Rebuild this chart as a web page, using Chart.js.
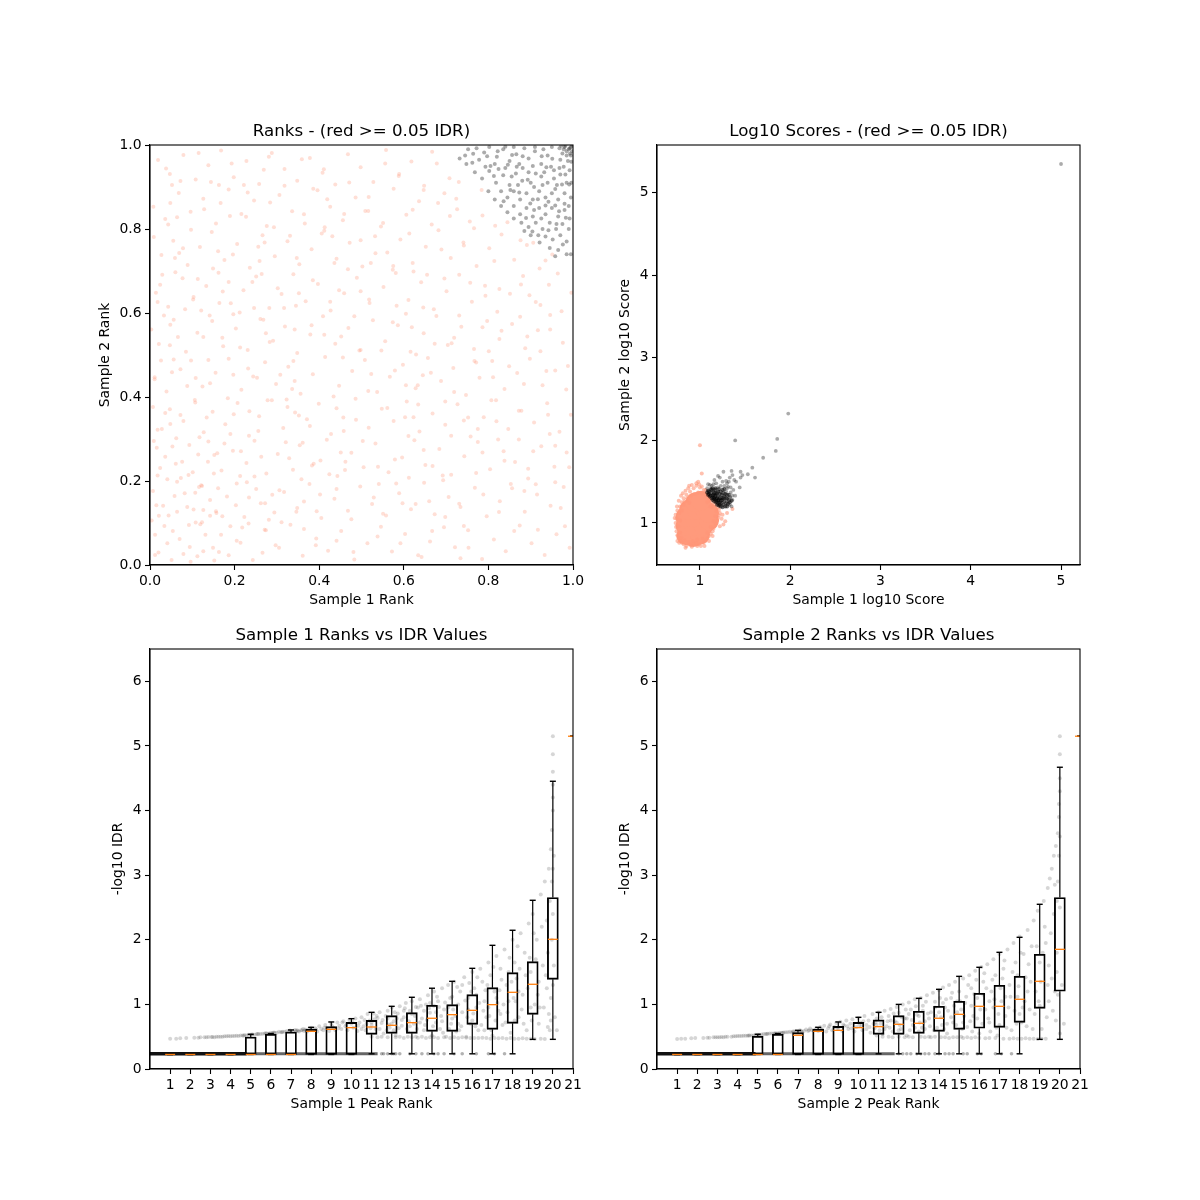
<!DOCTYPE html>
<html>
<head>
<meta charset="utf-8">
<title>IDR plots</title>
<script src="https://cdn.jsdelivr.net/npm/chart.js@4/dist/chart.umd.min.js"></script>
<style>
  body { margin: 0; background: #fff; }
  #page { position: relative; width: 1200px; height: 1200px; overflow: hidden; }
  canvas { position: absolute; }
</style>
</head>
<body>
<div id="page">
  <canvas id="ranks" width="513" height="515" style="left:80px;top:104.5px"></canvas>
  <canvas id="scores" width="513" height="515" style="left:587px;top:104.5px"></canvas>
  <canvas id="sample1" width="513" height="515" style="left:80px;top:608.5px"></canvas>
  <canvas id="sample2" width="513" height="515" style="left:587px;top:608.5px"></canvas>
</div>
<script>
const rankTicks = [0, 0.2, 0.4, 0.6, 0.8, 1];
const scoreTicks = [1, 2, 3, 4, 5];
const idrTicks = [0, 1, 2, 3, 4, 5, 6];
const peakTicks = [1, 2, 3, 4, 5, 6, 7, 8, 9, 10, 11, 12, 13, 14, 15, 16, 17, 18, 19, 20, 21];

// ranks panel, failing peaks
const rankRed = [
[.02,.03],[.051,.012],[.07,.062],[.034,.093],[.112,.021],[.131,.072],[.094,.043],[.163,.031],[.19,.092],[.214,.053],[.243,.012],[.271,.084],[.305,.041],[.332,.096],[.361,.022],[.393,.063],[.421,.034],[.452,.081],[.483,.013],[.514,.052],[.546,.091],[.572,.032],[.603,.074],[.634,.023],[.662,.056],[.695,.09],[.721,.042],[.752,.083],[.785,.014],[.813,.061],[.841,.033],[.874,.094],[.902,.052],[.933,.024],[.961,.073],[.992,.041],[.012,.072],[.041,.052],[.123,.102],[.152,.011],
[.015,.142],[.044,.118],[.082,.171],[.103,.132],[.121,.19],[.116,.186],[.157,.124],[.182,.163],[.223,.114],[.251,.181],[.262,.147],[.294,.125],[.317,.174],[.348,.136],[.377,.193],[.405,.112],[.436,.158],[.468,.129],[.497,.187],[.525,.145],[.558,.118],[.589,.171],[.617,.133],[.648,.196],[.673,.121],[.706,.162],[.734,.138],[.768,.184],[.796,.116],[.827,.152],[.853,.193],[.886,.127],[.915,.168],[.947,.141],[.978,.186],[.007,.176],[.064,.198],[.142,.155],[.205,.194],[.281,.108],[.364,.151],[.541,.193],[.66,.152],[.885,.176],
[.024,.231],[.053,.282],[.091,.214],[.114,.263],[.138,.294],[.169,.225],[.196,.272],[.228,.243],[.247,.296],[.275,.218],[.302,.264],[.338,.227],[.354,.285],[.387,.241],[.418,.298],[.443,.212],[.476,.267],[.505,.233],[.533,.289],[.564,.221],[.596,.256],[.625,.297],[.651,.238],[.684,.276],[.712,.215],[.743,.259],[.775,.293],[.804,.228],[.836,.271],[.863,.245],[.894,.206],[.925,.283],[.956,.234],[.985,.268],[.009,.295],[.036,.258],[.076,.246],[.152,.262],[.213,.212],[.263,.258],[.321,.292],[.403,.249],[.461,.226],[.612,.208],[.692,.213],[.823,.299],
[.018,.322],[.047,.371],[.079,.343],[.106,.393],[.127,.316],[.148,.365],[.178,.335],[.207,.386],[.234,.308],[.258,.354],[.288,.392],[.315,.326],[.343,.363],[.371,.347],[.399,.384],[.428,.312],[.457,.351],[.486,.396],[.517,.327],[.548,.372],[.576,.343],[.607,.389],[.637,.318],[.668,.361],[.698,.334],[.727,.383],[.758,.306],[.789,.352],[.818,.392],[.847,.324],[.878,.367],[.908,.339],[.939,.385],[.968,.317],[.995,.358],[.007,.376],[.062,.302],[.19,.312],[.323,.394],[.352,.356],[.441,.373],[.623,.352],[.742,.344],
[.011,.442],[.039,.413],[.072,.466],[.097,.487],[.124,.425],[.155,.458],[.186,.491],[.216,.417],[.244,.449],[.272,.483],[.298,.431],[.327,.472],[.356,.408],[.385,.454],[.414,.495],[.447,.427],[.478,.462],[.508,.488],[.537,.412],[.567,.448],[.598,.477],[.628,.421],[.657,.493],[.688,.438],[.717,.469],[.747,.405],[.779,.446],[.809,.486],[.838,.419],[.868,.457],[.898,.491],[.928,.428],[.958,.463],[.988,.474],[.056,.489],[.108,.445],[.232,.468],[.342,.438],[.523,.455],[.645,.452],[.771,.482],
[.021,.526],[.048,.572],[.085,.508],[.112,.553],[.141,.594],[.173,.521],[.203,.563],[.231,.512],[.261,.586],[.291,.534],[.319,.568],[.348,.505],[.379,.549],[.409,.592],[.438,.527],[.469,.564],[.495,.511],[.527,.583],[.556,.533],[.586,.571],[.616,.508],[.647,.552],[.677,.593],[.704,.524],[.736,.567],[.766,.514],[.797,.581],[.826,.538],[.856,.574],[.887,.516],[.917,.559],[.946,.595],[.976,.529],[.003,.561],[.066,.543],[.197,.597],[.274,.552],[.452,.544],[.605,.598],[.719,.541],
[.014,.648],[.043,.615],[.077,.683],[.102,.632],[.133,.664],[.162,.696],[.191,.623],[.221,.654],[.251,.687],[.282,.612],[.311,.645],[.339,.692],[.368,.628],[.397,.669],[.427,.606],[.459,.647],[.489,.684],[.519,.624],[.552,.662],[.581,.695],[.611,.631],[.641,.673],[.671,.609],[.701,.652],[.731,.691],[.761,.627],[.792,.665],[.821,.603],[.851,.646],[.882,.688],[.912,.626],[.943,.667],[.973,.604],[.996,.648],[.06,.697],[.121,.606],[.172,.651],[.345,.617],[.498,.652],
[.027,.738],[.055,.772],[.089,.714],[.118,.757],[.146,.793],[.176,.726],[.206,.764],[.236,.708],[.266,.785],[.295,.735],[.325,.771],[.353,.716],[.382,.752],[.412,.796],[.441,.729],[.472,.767],[.502,.711],[.532,.783],[.561,.744],[.592,.775],[.621,.719],[.652,.758],[.682,.797],[.711,.731],[.741,.768],[.772,.712],[.802,.754],[.831,.787],[.861,.727],[.891,.762],[.921,.706],[.951,.739],[.009,.781],[.069,.743],[.161,.747],[.259,.724],[.431,.783],[.575,.712],
[.008,.853],[.036,.824],[.068,.886],[.096,.841],[.126,.872],[.156,.813],[.186,.894],[.216,.836],[.246,.868],[.276,.807],[.306,.881],[.336,.842],[.366,.813],[.396,.892],[.426,.853],[.456,.821],[.486,.875],[.516,.843],[.546,.806],[.576,.896],[.606,.834],[.636,.866],[.666,.811],[.696,.885],[.726,.847],[.756,.818],[.786,.832],[.816,.808],[.845,.816],[.876,.773],[.906,.767],[.935,.725],[.964,.694],[.048,.862],[.231,.887],[.413,.804],[.647,.893],
[.019,.964],[.047,.931],[.079,.976],[.108,.918],[.138,.952],[.168,.987],[.198,.923],[.228,.962],[.258,.907],[.288,.981],[.318,.943],[.348,.915],[.378,.969],[.408,.934],[.438,.906],[.468,.978],[.498,.947],[.528,.912],[.558,.988],[.588,.926],[.618,.961],[.648,.903],[.678,.956],[.708,.921],[.73,.912],[.052,.905],[.281,.972],[.163,.905]
];
const rankRedMore = [
[.317,.612],[.742,.093],[.128,.847],[.561,.374],[.093,.286],[.884,.431],[.436,.719],[.205,.058],[.673,.527],[.029,.691],[.358,.204],[.517,.876],[.786,.268],[.142,.433],[.628,.145],[.271,.768],[.945,.312],[.064,.127],[.483,.592],[.709,.831],[.186,.674],[.392,.047],[.831,.558],[.256,.319],[.574,.703],[.115,.981],[.668,.236],[.339,.486],[.917,.084],[.047,.523],[.451,.268],[.793,.641],[.222,.905],[.605,.428],[.078,.754],[.529,.161],[.364,.835],[.872,.367],[.151,.218],[.696,.682],
[.283,.531],[.958,.197],[.411,.942],[.036,.362],[.642,.019],[.197,.453],[.814,.724],[.476,.109],[.103,.638],[.551,.814],[.329,.254],[.767,.486],[.018,.213],[.246,.612],[.589,.931],[.923,.509],[.168,.072],[.434,.401],[.712,.308],[.072,.914],[.385,.678],[.856,.183],[.297,.047],[.619,.566],[.134,.351],[.498,.773],[.984,.418],[.227,.829],[.753,.041],[.056,.584],[.346,.127],[.681,.862],[.412,.548],[.176,.289],[.897,.642],[.539,.234],[.264,.693],[.011,.447],[.634,.382],[.825,.126],
[.459,.836],[.107,.172],[.378,.331],[.731,.594],[.213,.518],[.592,.052],[.043,.811],[.906,.271],[.318,.903],[.664,.458],[.149,.706],[.503,.295],[.849,.473],[.272,.147],[.088,.426],[.426,.627],[.771,.219],[.235,.366],[.613,.789],[.971,.136],[.193,.956],[.547,.511],[.364,.086],[.024,.667],[.698,.114],[.458,.319],[.126,.543],[.807,.392],[.293,.804],[.579,.251],[.061,.241],[.742,.761],[.402,.168],[.875,.591],[.167,.862],[.518,.632],[.336,.419],[.941,.358],[.229,.197],[.655,.691],
[.092,.095],[.471,.911],[.788,.168],[.253,.446],[.611,.307],[.038,.944],[.382,.571],[.719,.412],[.156,.128],[.533,.742],[.894,.229],[.302,.659],[.048,.336],[.667,.984],[.441,.181],[.196,.739],[.826,.657],[.579,.463],[.117,.304],[.359,.966],[.752,.351],[.274,.083],[.498,.512],[.937,.462],[.083,.609],[.623,.699],[.215,.271],[.406,.789],[.861,.081],[.147,.581],[.551,.122],[.713,.528],[.325,.376],[.031,.141],[.784,.893],[.462,.246],[.189,.831],[.647,.274],[.268,.584],[.991,.233],
[.123,.188],[.108,.101],[.119,.097],[.004,.106],[.016,.279],[.028,.324],[.149,.041],[.171,.116],[.234,.161],[.266,.029],[.079,.026],[.058,.164],[.101,.221],[.137,.246],[.203,.142],[.186,.023],[.041,.204],[.073,.207],[.021,.117],[.161,.183],[.247,.211],[.289,.167],[.311,.102],[.126,.033],[.142,.117],[.088,.138],[.012,.024],[.054,.081],[.096,.008],[.218,.089],
[.347,.731],[.731,.146],[.583,.617],[.138,.488],[.872,.299],[.441,.058],[.269,.941],[.698,.389],[.052,.459],[.516,.414],[.801,.509],[.383,.237],[.164,.624],[.946,.561],[.621,.846],[.308,.453],[.757,.672],[.097,.798],[.487,.346],[.233,.099],[.667,.081],[.419,.871],[.912,.192],[.184,.397],[.556,.956],[.033,.594],[.775,.324],[.342,.561],[.629,.501],[.113,.681],[.468,.704],[.838,.248],[.256,.758],[.597,.147],[.072,.357],[.394,.128],[.724,.872],[.212,.601],[.981,.092],[.509,.843],
[.361,.291],[.786,.566],[.144,.912],[.603,.352],[.026,.487],[.447,.654],[.892,.544],[.278,.392],[.693,.202],[.171,.541],[.538,.068],[.331,.784],[.819,.342],[.064,.828],[.574,.578],[.424,.216],[.958,.284],[.242,.674],[.646,.613],[.107,.387],[.481,.031],[.766,.802],[.306,.178],[.522,.719],[.877,.668],[.198,.359],[.059,.731],[.633,.428],[.386,.896],[.734,.016],[.159,.266],[.456,.494],[.923,.619],[.284,.863],[.582,.194],[.018,.626],[.811,.447],[.352,.647],[.689,.751],[.126,.131]
];
// ranks panel, passing peaks
const rankBlack = [
[.732,.968],[.745,.975],[.762,.958],[.778,.965],[.79,.982],[.805,.95],[.82,.972],[.835,.99],[.85,.962],[.866,.978],[.881,.945],[.895,.968],[.91,.985],[.925,.955],[.94,.975],[.955,.94],[.97,.965],[.985,.985],[.995,.995],[.99,.99],[.98,.995],[.975,.98],[.995,.975],[.988,.962],[.968,.992],[.95,.995],[.93,.99],[.91,.995],[.885,.992],[.86,.995],[.84,.996],
[.768,.935],[.785,.92],[.802,.938],[.818,.91],[.835,.928],[.85,.905],[.865,.932],[.88,.915],[.895,.935],[.908,.9],[.925,.925],[.94,.91],[.955,.92],[.97,.93],[.985,.91],[.992,.94],[.978,.948],[.962,.905],[.948,.948],[.873,.955],[.815,.955],[.83,.89],[.845,.875],[.86,.89],[.875,.87],[.89,.885],[.905,.87],[.92,.89],[.935,.875],[.95,.885],[.965,.87],[.98,.885],[.995,.875],
[.8,.89],[.815,.87],[.83,.855],[.845,.84],[.86,.855],[.875,.835],[.89,.85],[.905,.83],[.92,.85],[.935,.835],[.95,.85],[.965,.83],[.98,.845],[.992,.825],[.878,.815],[.895,.805],[.912,.815],[.928,.8],[.945,.815],[.96,.8],[.975,.812],[.99,.8],[.9,.785],[.918,.785],[.935,.782],[.952,.775],[.97,.785],[.985,.77],[.945,.755],[.965,.75],[.985,.74],[.995,.74],[.958,.735],
[.752,.99],[.772,.992],[.802,.995],[.822,.985],[.748,.955],[.793,.948],[.84,.945],[.905,.95],[.932,.935],[.968,.945],[.982,.93],[.9,.91],[.87,.905],[.855,.925],[.928,.905],[.958,.895],[.942,.865],[.908,.845],[.86,.825],[.885,.795],[.925,.825],[.98,.86],[.99,.855],[.996,.91],[.996,.96],[.993,.98],[.985,.975],[.978,.99],[.992,.992],[.998,.985],[.998,.998],[.982,.998],[.972,.998],
[.893,.917],[.846,.953],[.917,.871],[.961,.812],[.873,.887],[.813,.926],[.937,.947],[.889,.826],[.974,.906],[.852,.893],[.926,.973],[.904,.794],[.983,.827],[.836,.866],[.951,.967],[.867,.948],[.942,.797],[.912,.932],[.797,.973],[.976,.763],[.824,.943],[.958,.856],[.881,.973],[.935,.856],[.991,.906],[.856,.976],[.899,.861],[.967,.842],[.764,.979],[.921,.768]
];
// scores panel
const scoreOutliers = [[5,5.35],[1.978,2.325],[1.856,2.018],[1.84,1.873],[1.7,1.79],[1.39,2],[1.58,1.67],[1.61,1.55],[1.53,1.59],[1.45,1.62],[1.47,1.58],[1.45,1.55],[1.4,1.5],[1.44,1.43],[1.35,1.63],[1.26,1.62],[1.36,1.58],[1.33,1.55],[1.32,1.5],[1.38,1.52],[1.31,1.44],[1.29,1.51],[1.22,1.55],[1.25,1.5],[1.2,1.57],[1.16,1.52],[1.18,1.48],[1.11,1.46],[1.37,1.4],[1.34,1.37],[1.39,1.33],[1.35,1.2],[1.36,1.28],[1.3,1.42],[1.27,1.45],[1.08,1.42],[1.13,1.45],[1.23,1.45],[1.29,1.38],[1.33,1.22],[1.36,1.33],[1.2,1.43],[1.09,1.47],[1.34,1.43],[1.3,1.48],[1.15,1.47]];
const scoreBlack = [[1.08,1.37],[1.09,1.34],[1.1,1.38],[1.11,1.32],[1.12,1.36],[1.13,1.3],[1.13,1.4],[1.14,1.28],[1.15,1.34],[1.15,1.38],[1.16,1.26],[1.16,1.31],[1.17,1.42],[1.18,1.25],[1.18,1.29],[1.18,1.35],[1.19,1.22],[1.2,1.27],[1.2,1.32],[1.2,1.38],[1.21,1.21],[1.22,1.25],[1.22,1.3],[1.23,1.2],[1.24,1.24],[1.24,1.34],[1.25,1.19],[1.25,1.28],[1.26,1.22],[1.27,1.26],[1.27,1.32],[1.28,1.2],[1.29,1.24],[1.3,1.29],[1.31,1.23],[1.32,1.27],[1.33,1.31],[1.14,1.33],[1.17,1.33],[1.19,1.3],[1.21,1.28],[1.23,1.27],[1.12,1.33],[1.16,1.29],[1.15,1.3],[1.18,1.27],[1.2,1.24],[1.22,1.22],[1.1,1.35],[1.26,1.3],[1.28,1.35],[1.23,1.38],[1.17,1.4],[1.14,1.42],[1.3,1.34],[1.25,1.4],[1.09,1.39],[1.12,1.41],[1.16,1.36],[1.19,1.36],[1.22,1.35],[1.26,1.36],[1.24,1.3],[1.29,1.3],[1.32,1.34],[1.21,1.41],[1.27,1.41],[1.35,1.27],[1.3,1.2],[1.33,1.25]];
const scoreCore = [[.85,.85],[.93,.83],[1,.86],[.84,.97],[.94,.96],[1.04,.97],[.84,1.07],[.94,1.07],[1.04,1.07],[1.1,1.03],[.88,1.16],[.97,1.16],[1.06,1.15],[1.1,1.12],[.95,1.25],[1.01,1.27]];
const scoreRed = [[.73,1],[.74,.9],[.735,.95],[.75,.85],[.76,.82],[.78,.78],[.8,.76],[.82,.74],[.85,.72],[.88,.74],[.9,.73],[.93,.75],[.96,.76],[.99,.74],[1.01,.72],[1.04,.76],[1.06,.78],[1.08,.81],[1.1,.84],[1.12,.87],[1.14,.9],[1.15,.93],[1.17,.97],[1.18,1],[1.19,1.03],[1.2,1.06],[1.21,1.09],[1.22,1.12],[1.21,1.16],[1.2,1.19],[1.17,1.22],[1.15,1.25],[1.12,1.27],[1.1,1.3],[1.07,1.33],[1.05,1.36],[1.04,1.4],[1,1.43],[.96,1.45],[.93,1.42],[.89,1.38],[.85,1.34],[.82,1.3],[.8,1.25],[.78,1.2],[.75,1.15],[.73,1.1],[.74,1.05],[.76,.96],[.78,.88],[.78,1.03],[.77,1.12],[.8,1.15],[.82,1.22],[.86,1.27],[.79,.82],[.83,.79],[.87,.77],[.92,.78],[.97,.8],[1.03,.81],[1.08,.88],[1.12,.95],[1.15,1.02],[1.17,1.08],[1.18,1.14],[1.14,1.2],[1.25,1.1],[1.28,1.02],[1.36,1.17],[1.3,1.12],[1.26,.98],[1.24,1.05],[1.22,.96],[1.02,1.6],[1,1.94],[.98,1.5],[.88,1.45],[.96,1.48],[.81,1.36],
[.72,1.06],[.745,1.2],[.765,1.27],[.79,1.33],[.84,1.39],[.87,1.42],[.91,1.46],[.99,1.47],[1.02,1.44],[1.06,1.4],[.77,.76],[.84,.7],[.91,.71],[.97,.72],[1.05,.72],[1.1,.78],[.75,.78],[1.14,.84],[.86,1.3],[.9,1.33],[.94,1.35],[.98,1.37],[1.02,1.36],[.83,1.26],[.88,1.24],[1.08,1.25],[1.12,1.2]];

// sample 1 panel
const s1BandDark = [[0,.235],[4.8,.235]];
const s1BandMid = [[4.8,.235],[11.3,.235]];
const s1Dots = [[11.5,.235],[11.8,.235],[12,.235],[12.2,.235],[12.4,.235],[12.9,.235],[13.2,.235],[13.8,.235],[14.3,.235],[14.6,.235],[15.1,.235],[15.5,.235],[16.2,.235],[16.8,.235],[17.1,.235],[17.6,.235],[11.6,.235],[12.1,.235],[13.5,.235],[14.1,.235]];
const s1Points = [
[1,.47],[1.3,.47],[1.5,.475],[1.8,.48],[2.2,.485],[2.5,.49],[2.7,.49],[2.9,.495],[3.1,.495],[3.2,.49],[3.3,.5],[3.5,.5],[3.6,.5],[3.7,.505],[3.9,.51],[4,.505],[4.1,.51],[4.3,.515],[4.4,.51],[4.5,.52],[4.7,.525],[4.8,.52],[4.9,.53],[5.1,.535],[5.2,.53],[5.3,.54],[5.5,.54],[5.6,.545],[5.7,.55],[5.9,.55],[6,.56],[6.1,.56],[6.3,.56],[6.4,.575],[6.5,.57],[6.7,.575],[6.8,.59],[6.9,.585],[7.1,.59],[7.2,.605],[7.3,.6],[7.4,.58],[7.5,.6],[7.6,.62],[7.7,.61],[7.8,.58],[7.9,.62],
[3.4,.5],[3.8,.505],[4.2,.51],[4.6,.52],[5,.53],[5.4,.54],[5.8,.55],[6.2,.56],[6.6,.575],[7,.585],[7.25,.59],[7.55,.6],[7.75,.6],[7.95,.6],[4.65,.515],[5.05,.535],[5.35,.54],[5.75,.555],[6.15,.565],[6.55,.57],[6.95,.595],[7.35,.59],[7.65,.59],[2.4,.485],[2.8,.49],[3.05,.495],
[8,.64],[8.1,.6],[8.2,.63],[8.3,.58],[8.4,.66],[8.5,.62],[8.6,.6],[8.7,.68],[8.8,.63],[8.9,.59],[9,.7],[9.1,.64],[9.2,.6],[9.3,.72],[9.4,.67],[9.5,.62],[9.6,.74],[9.7,.66],[9.8,.6],[9.9,.76],[10,.7],[10.1,.64],[10.2,.78],[10.3,.59],[10.4,.72],[10.5,.8],[10.6,.66],[10.7,.6],[10.8,.85],[10.9,.75],[11,.68],[11.1,.86],[11.2,.62],[11.3,.79],[11.4,.88],[11.5,.71],[11.6,.55],[11.7,.82],[11.8,.9],[11.9,.64],[12,.95],[12.1,.74],[12.2,.52],[12.3,.86],[12.4,.97],[12.5,.67],[12.6,.8],[12.7,1.02],[12.8,.58],[12.9,.9],[13,1.05],[13.1,.7],[13.2,.5],[13.3,.95],[13.4,1.08],[13.5,.78],[13.6,.6],[13.7,1],[13.8,1.14],[13.9,.87],[14,.52],[14.1,1.2],[14.2,.72],[14.3,1.05],[14.4,.62],[14.5,1.25],[14.6,.92],[14.7,.5],[14.8,1.3],[14.9,1.1],[15,.78],[15.1,1.35],[15.2,.58],[15.3,1],[15.4,1.2],[15.5,.88],[15.6,1.42],[15.7,.5],[15.8,1.1],[15.9,.7],[16,1.5],[16.1,1.25],[16.2,.95],[16.3,.6],[16.4,1.55],[16.5,1.35],[16.6,1.05],[16.7,.8],[16.8,1.65],[16.9,1.45],[17,.52],[17.1,1.2],[17.2,1.75],[17.3,.9],[17.4,1.55],[17.5,.68],[17.6,1.85],[17.7,1.3],[17.8,1.05],[17.9,.56],[18,2],[18.1,1.65],[18.2,1.4],[18.3,.8],[18.4,2.1],[18.5,1.15],[18.6,1.8],[18.7,.6],[18.8,2.25],[18.9,1.5],[19,2.4],[19.1,1],[19.2,2],[19.3,.7],[19.4,2.7],[19.5,1.6],[19.6,2.9],[19.7,1.25],[19.7,2.3],[19.8,.85],[19.8,3.1],[19.85,.6],[19.9,3.4],[19.95,2],[19.95,3.7],[20,4],[20,4.2],[20,4.4],[20,4.87],[20,4.6],[20,5.15],[20.05,1.6],[20.1,.8],[20.2,.6],
[10.5,.62],[11,.72],[11.4,.62],[12,.7],[12.5,.76],[13,.85],[13.6,.9],[14.2,.88],[14.8,.95],[15.3,.7],[15.8,.92],[16.2,1.15],[16.8,.95],[17.2,1.1],[17.8,1.5],[18.3,1.2],[18.9,.95],[19.3,1.35],[19.9,1.1],[12.1,.6],[12.9,.66],[13.4,.72],[14.5,.74],[15,1.12],[15.5,1.3],[16,.75],[16.6,.6],[17.4,.85],[18.1,.75],[11.8,.78],[12.6,.9],[13.2,.96],[13.9,1.02],[14.1,.98],
[11,.5],[11.3,.49],[11.5,.5],[11.8,.49],[12.2,.49],[12.4,.5],[12.6,.48],[12.8,.5],[13,.49],[13.3,.485],[13.5,.5],[13.7,.48],[13.9,.49],[14.1,.49],[14.3,.48],[14.6,.49],[14.9,.48],[15.1,.49],[15.3,.48],[15.5,.49],[15.7,.485],[15.9,.48],[16.1,.48],[16.3,.48],[16.5,.485],[16.7,.48],[16.9,.47],[17.1,.48],[17.3,.475],[17.5,.48],[17.7,.47],[17.9,.48],[18.1,.47],[18.3,.47],[18.5,.475],[18.7,.47],[18.9,.47],[19.1,.465],[19.4,.47],[19.6,.465],
[8.25,.61],[8.65,.64],[9.05,.66],[9.35,.63],[9.75,.69],[10.05,.73],[10.35,.67],[10.65,.76],[10.95,.63],[11.25,.82],[11.55,.76],[11.85,.69],[12.15,.88],[12.35,.63],[12.65,.94],[12.85,.74],[13.15,.82],[13.45,.98],[13.65,.68],[13.85,.94],[14.05,.66],[14.25,1.12],[14.45,.82],[14.65,1.03],[14.85,.62],[15.05,.92],[15.25,1.27],[15.45,.66],[15.65,1.06],[15.85,1.33],[16.05,.86],[16.25,1.42],[16.45,.68],[16.65,1.22],[16.85,.82],[17.05,1.58],[17.25,1.02],[17.45,1.38],[17.65,.72],[17.85,1.72],[18.05,1.1],[18.25,1.9],[18.45,.92],[18.65,1.45],[18.85,1.72],[19.05,2.1],[19.25,1.15],[19.45,2.2],[19.55,.95],[19.75,1.8],[19.85,2.6],
[9.55,.72],[10.75,.7],[11.15,.77],[11.75,.6],[12.25,.78],[12.75,.62],[13.25,.62],[13.75,.76],[14.35,.96],[14.55,.56],[14.95,.7],[15.15,.82],[15.35,.6],[15.75,.8],[15.95,1.2],[16.15,.66],[16.35,1.02],[16.55,.9],[16.75,1.3],[16.95,.6],[17.15,.75],[17.35,1.22],[17.55,1],[17.75,.88],[17.95,1.35],[18.15,1.05],[18.35,1.55],[18.55,.7],[18.75,1.25],[18.95,.75],[19.15,1.7],[19.35,.95],[19.65,1.45],[19.75,.65],[19.9,.75],[20,1.3],[20,2.4],[19.95,2.9],[20.05,3.3],[20,3.1]
];
const s1Q1 = [.225,.225,.225,.225,.225,.225,.225,.225,.225,.225,.537,.552,.552,.583,.583,.691,.614,.707,.846,1.388,5.15];
const s1Med = [.225,.225,.225,.225,.225,.225,.225,.583,.614,.64,.65,.676,.717,.785,.841,.908,.996,1.187,1.311,2.007,5.15];
const s1Q3 = [.225,.225,.225,.225,.495,.537,.573,.614,.655,.722,.753,.825,.872,.986,.996,1.15,1.259,1.491,1.661,2.653,5.15];
const s1Lo = [.225,.225,.225,.225,.225,.225,.225,.225,.225,.225,.235,.235,.235,.235,.235,.235,.235,.235,.459,.459,5.15];
const s1Hi = [.225,.225,.225,.225,.537,.55,.604,.645,.728,.779,.877,.97,1.11,1.25,1.357,1.558,1.914,2.147,2.611,4.453,5.15];

// sample 2 panel
const s2BandDark = [[0,.235],[4.9,.235]];
const s2BandMid = [[4.9,.235],[11.8,.235]];
const s2Dots = [[12,.235],[12.2,.235],[12.4,.235],[12.6,.235],[12.9,.235],[13.1,.235],[13.3,.235],[13.5,.235],[13.8,.235],[14,.235],[14.3,.235],[14.5,.235],[14.7,.235],[15.2,.235],[15.4,.235],[15.9,.235],[16.1,.235],[16.8,.235],[17.1,.235],[17.6,.235]];
const s2Points = [
[1,.465],[1.2,.47],[1.4,.47],[1.7,.475],[1.9,.48],[2.3,.48],[2.6,.485],[2.8,.49],[3,.49],[3.2,.495],[3.3,.49],[3.5,.5],[3.7,.5],[3.8,.505],[4,.51],[4.2,.51],[4.3,.515],[4.5,.515],[4.6,.52],[4.8,.52],[4.9,.53],[5,.53],[5.2,.535],[5.4,.54],[5.5,.545],[5.7,.55],[5.8,.55],[6,.555],[6.2,.56],[6.3,.565],[6.5,.57],[6.6,.575],[6.7,.565],[6.9,.59],[7,.58],[7.1,.6],[7.2,.575],[7.4,.61],[7.5,.59],[7.6,.625],[7.7,.6],[7.9,.63],
[3.4,.5],[3.9,.505],[4.4,.515],[4.7,.52],[5.1,.53],[5.3,.54],[5.6,.55],[5.9,.555],[6.1,.56],[6.4,.57],[6.8,.58],[7.3,.59],[7.55,.6],[7.8,.6],[4.1,.51],[4.55,.52],[5.05,.53],[5.45,.54],[5.85,.55],[6.25,.56],[6.75,.58],[7.15,.59],[2.5,.485],[2.9,.49],[3.1,.49],
[8,.59],[8.1,.65],[8.2,.61],[8.3,.67],[8.4,.58],[8.5,.63],[8.6,.69],[8.7,.6],[8.8,.65],[8.9,.71],[9,.62],[9.1,.73],[9.2,.59],[9.3,.67],[9.4,.75],[9.5,.62],[9.6,.7],[9.7,.77],[9.8,.58],[9.9,.65],[10,.79],[10.1,.72],[10.2,.6],[10.3,.82],[10.4,.68],[10.5,.75],[10.6,.56],[10.7,.85],[10.8,.63],[10.9,.78],[11,.88],[11.1,.7],[11.2,.54],[11.3,.9],[11.4,.66],[11.5,.82],[11.6,.93],[11.7,.58],[11.8,.74],[11.9,.96],[12,.87],[12.1,.62],[12.2,1],[12.3,.78],[12.4,.52],[12.5,1.03],[12.6,.92],[12.7,.68],[12.8,1.08],[12.9,.84],[13,.58],[13.1,1.1],[13.2,.98],[13.3,.74],[13.4,1.14],[13.5,.5],[13.6,.88],[13.7,1.18],[13.8,1.04],[13.9,.64],[14,1.22],[14.1,.8],[14.2,1.26],[14.3,.95],[14.4,.55],[14.5,1.3],[14.6,1.1],[14.7,.72],[14.8,1.35],[14.9,.88],[15,1.2],[15.1,.5],[15.2,1.4],[15.3,1.02],[15.4,.65],[15.5,1.45],[15.6,1.25],[15.7,.82],[15.8,1.52],[15.9,1.1],[16,.55],[16.1,1.58],[16.2,1.35],[16.3,.92],[16.4,1.62],[16.5,.72],[16.6,1.2],[16.7,1.7],[16.8,1.45],[16.9,.52],[17,1.78],[17.1,1.05],[17.2,1.55],[17.3,.82],[17.4,1.85],[17.5,1.3],[17.6,.6],[17.7,1.95],[17.8,1.65],[17.9,1.12],[18,2.05],[18.1,.72],[18.2,1.78],[18.3,1.42],[18.4,2.15],[18.5,.92],[18.6,1.9],[18.7,2.3],[18.8,1.2],[18.9,2.45],[19,1.65],[19.1,.62],[19.2,2.6],[19.3,1.95],[19.4,2.8],[19.45,1.05],[19.5,2.95],[19.6,1.4],[19.6,3.1],[19.7,2.4],[19.7,3.3],[19.8,.75],[19.8,3.45],[19.85,1.8],[19.9,3.65],[19.9,2.9],[19.95,3.9],[19.95,4.1],[20,4.3],[20,4.5],[20,4.87],[20,5.15],[20.1,1.3],[20.2,.7],[20,.55],
[10.4,.62],[10.9,.68],[11.3,.62],[11.9,.72],[12.4,.78],[13,.82],[13.5,.78],[14,.88],[14.6,.8],[15.1,.92],[15.6,.98],[16.2,1.15],[16.7,.95],[17.3,1.12],[17.9,1.45],[18.4,1.2],[19,.98],[19.4,1.3],[19.9,1.15],[12,.6],[12.8,.64],[13.3,.62],[14.4,.7],[15.2,.72],[15.9,.78],[16.5,1.05],[17,.68],[18,.85],[11.6,.75],[12.5,.85],[13.2,.9],[13.8,.95],[14.2,1.02],[14.9,1.05],
[10.9,.52],[11.2,.5],[11.5,.5],[11.7,.49],[12,.5],[12.3,.49],[12.5,.5],[12.7,.49],[13.1,.5],[13.3,.49],[13.6,.49],[13.8,.5],[14.1,.49],[14.3,.49],[14.5,.48],[14.7,.49],[14.9,.49],[15.2,.48],[15.4,.49],[15.6,.48],[15.8,.49],[16,.48],[16.3,.475],[16.5,.48],[16.8,.48],[17.2,.47],[17.5,.47],[17.7,.475],[17.9,.47],[18.1,.47],[18.3,.475],[18.5,.47],[18.7,.47],[18.9,.465],[19.1,.47],[19.3,.47],
[8.15,.62],[8.55,.66],[8.95,.64],[9.25,.69],[9.65,.63],[10.05,.68],[10.25,.74],[10.55,.65],[10.85,.72],[11.15,.8],[11.45,.74],[11.75,.86],[12.05,.68],[12.35,.92],[12.55,.6],[12.85,.97],[13.05,.72],[13.35,1.04],[13.55,.66],[13.85,.82],[14.05,1.1],[14.25,.62],[14.45,.9],[14.65,1.18],[14.85,.68],[15.05,1.05],[15.25,.82],[15.45,1.3],[15.65,.58],[15.85,1.38],[16.05,.92],[16.25,1.48],[16.45,.78],[16.65,1.38],[16.85,.64],[17.05,1.25],[17.25,1.68],[17.45,.95],[17.65,1.5],[17.85,.7],[18.05,1.8],[18.25,1.05],[18.45,1.62],[18.65,.62],[18.85,1.9],[19.05,1.35],[19.25,2.2],[19.35,.8],[19.55,2.1],[19.75,1.2],[19.85,2.6],
[9.45,.66],[10.15,.66],[10.75,.7],[11.05,.6],[11.55,.64],[12.15,.8],[12.65,.76],[13.15,.64],[13.45,.86],[13.75,.6],[14.15,.68],[14.35,1.08],[14.75,.98],[15.15,.62],[15.35,1.12],[15.55,.74],[15.75,1.16],[16.15,.7],[16.35,1.25],[16.55,.58],[16.75,1.08],[16.95,.85],[17.15,1.4],[17.35,.64],[17.55,1.12],[17.75,.9],[17.95,1.28],[18.15,.95],[18.35,.66],[18.55,1.35],[18.75,.85],[18.95,1.05],[19.15,1.8],[19.45,1.6],[19.65,.9],[19.75,2.85],[19.85,1.5],[19.95,3.3],[20,2.5],[20,3.6]
];
const s2Q1 = [.225,.225,.225,.225,.225,.225,.225,.225,.225,.225,.537,.537,.552,.583,.614,.63,.645,.722,.939,1.203,5.15];
const s2Med = [.225,.225,.225,.225,.225,.225,.522,.583,.598,.64,.655,.691,.707,.785,.846,.97,.97,1.079,1.357,1.852,5.15];
const s2Q3 = [.225,.225,.225,.225,.506,.537,.562,.614,.66,.722,.76,.825,.893,.97,1.048,1.171,1.295,1.434,1.775,2.653,5.15];
const s2Lo = [.225,.225,.225,.225,.225,.225,.225,.225,.225,.225,.235,.235,.235,.235,.235,.235,.235,.235,.459,.459,5.15];
const s2Hi = [.225,.225,.225,.225,.537,.55,.598,.645,.728,.8,.877,1,1.094,1.233,1.434,1.574,1.806,2.038,2.549,4.67,5.15];

const FONT = "'DejaVu Sans'";
const RED_SOFT = "rgba(255, 150, 120, 0.3)";
const RED_SOLID = "#ff9a7c";
const ORANGE = "#ff7f0e";

Chart.defaults.font.family = FONT;
Chart.defaults.color = "#000";

// top and right spines, chart.js only gives us the two axis borders
const framePlugin = {
  id: "frame",
  afterDraw(chart) {
    const { ctx, chartArea: a } = chart;
    ctx.save();
    ctx.strokeStyle = "#000";
    ctx.lineWidth = 1.1;
    ctx.strokeRect(a.left, a.top, a.right - a.left, a.bottom - a.top);
    ctx.restore();
  },
};

function cloud(data, color, radius, order) {
  return { type: "scatter", data, pointRadius: radius, pointBackgroundColor: color, pointBorderWidth: 0, order, clip: 0 };
}

function axis(label, min, max, ticks, fixedSize, titlePad, format) {
  return {
    type: "linear",
    min,
    max,
    offset: false,
    afterBuildTicks: (scale) => { scale.ticks = ticks.map((value) => ({ value })); },
    afterFit: (scale) => {
      if (scale.isHorizontal()) scale.height = fixedSize;
      else scale.width = fixedSize;
    },
    title: { display: true, text: label, font: { size: 13.9 }, padding: { top: titlePad, bottom: titlePad } },
    ticks: { autoSkip: false, maxRotation: 0, font: { size: 13.9 }, padding: 3.5, callback: format },
    border: { display: true, color: "#000", width: 1.1 },
    grid: { drawOnChartArea: false, drawTicks: true, tickLength: 5, tickColor: "#000", tickWidth: 1.1, offset: false },
  };
}

function makeChart(id, title, datasets, xAxis, yAxis) {
  return new Chart(document.getElementById(id), {
    type: "scatter",
    data: { datasets },
    options: {
      responsive: false,
      animation: false,
      events: [],
      layout: { padding: { right: 20 } },
      plugins: {
        legend: { display: false },
        tooltip: { enabled: false },
        title: { display: true, text: title, fullSize: false, font: { size: 16.67, weight: "normal" }, padding: { top: 16.5, bottom: 3.5 } },
      },
      scales: { x: xAxis, y: yAxis },
    },
    plugins: [framePlugin],
  });
}

function boxDatasets(points, bandDark, bandMid, dots, q1, med, q3, lo, hi) {
  const whiskers = [];
  const caps = [];
  const boxes = [];
  const medians = [];
  peakTicks.forEach((rank, i) => {
    whiskers.push({ x: rank, y: q3[i] }, { x: rank, y: hi[i] }, { x: rank, y: null });
    whiskers.push({ x: rank, y: q1[i] }, { x: rank, y: lo[i] }, { x: rank, y: null });
    caps.push({ x: rank, y: lo[i] }, { x: rank, y: hi[i] });
    boxes.push({ x: rank, y: [q1[i], q3[i]] });
    medians.push({ x: rank, y: med[i] });
  });
  return [
    cloud(points, "rgba(0, 0, 0, 0.16)", 2, 10),
    cloud(dots, "rgba(0, 0, 0, 0.3)", 1.8, 10),
    { type: "scatter", data: bandMid, showLine: true, borderColor: "rgba(0, 0, 0, 0.6)", borderWidth: 3, pointRadius: 0, order: 9, clip: 0 },
    { type: "scatter", data: bandDark, showLine: true, borderColor: "#111", borderWidth: 3.4, pointRadius: 0, order: 8, clip: 0 },
    { type: "bar", data: boxes, backgroundColor: "rgba(0, 0, 0, 0)", borderColor: "#000", borderWidth: 1.2, borderSkipped: false, barThickness: 11, grouped: false, order: 5, clip: 0 },
    { type: "scatter", data: whiskers, showLine: true, borderColor: "#000", borderWidth: 1.2, pointRadius: 0, order: 4, clip: 0 },
    { type: "scatter", data: caps, pointStyle: "line", pointRadius: 3, pointBorderColor: "#000", pointBorderWidth: 1.4, order: 3, clip: 0 },
    { type: "scatter", data: medians, pointStyle: "line", pointRadius: 5, pointBorderColor: ORANGE, pointBorderWidth: 1.3, order: 2, clip: 0 },
  ];
}

const oneDecimal = (v) => Number(v).toFixed(1);
const plain = (v) => String(v);

makeChart("ranks", "Ranks - (red >= 0.05 IDR)",
  [cloud(rankRed, RED_SOFT, 2, 3), cloud(rankRedMore, RED_SOFT, 2, 2), cloud(rankBlack, "rgba(0, 0, 0, 0.33)", 2, 1)],
  axis("Sample 1 Rank", 0, 1, rankTicks, 55, 11.7, oneDecimal),
  axis("Sample 2 Rank", 0, 1, rankTicks, 70, 16.7, oneDecimal));

makeChart("scores", "Log10 Scores - (red >= 0.05 IDR)",
  [cloud(scoreCore, RED_SOLID, 10, 4), cloud(scoreRed, "rgba(255, 150, 120, 0.6)", 2, 3), cloud(scoreBlack, "rgba(0, 0, 0, 0.55)", 2.1, 2), cloud(scoreOutliers, "rgba(0, 0, 0, 0.33)", 1.9, 1)],
  axis("Sample 1 log10 Score", 0.524, 5.21, scoreTicks, 55, 11.7, plain),
  axis("Sample 2 log10 Score", 0.49, 5.58, scoreTicks, 70, 29.7, plain));

makeChart("sample1", "Sample 1 Ranks vs IDR Values",
  boxDatasets(s1Points, s1BandDark, s1BandMid, s1Dots, s1Q1, s1Med, s1Q3, s1Lo, s1Hi),
  axis("Sample 1 Peak Rank", 0, 21, peakTicks, 55, 11.7, plain),
  axis("-log10 IDR", 0, 6.5, idrTicks, 70, 29.7, plain));

makeChart("sample2", "Sample 2 Ranks vs IDR Values",
  boxDatasets(s2Points, s2BandDark, s2BandMid, s2Dots, s2Q1, s2Med, s2Q3, s2Lo, s2Hi),
  axis("Sample 2 Peak Rank", 0, 21, peakTicks, 55, 11.7, plain),
  axis("-log10 IDR", 0, 6.5, idrTicks, 70, 29.7, plain));
</script>
</body>
</html>
